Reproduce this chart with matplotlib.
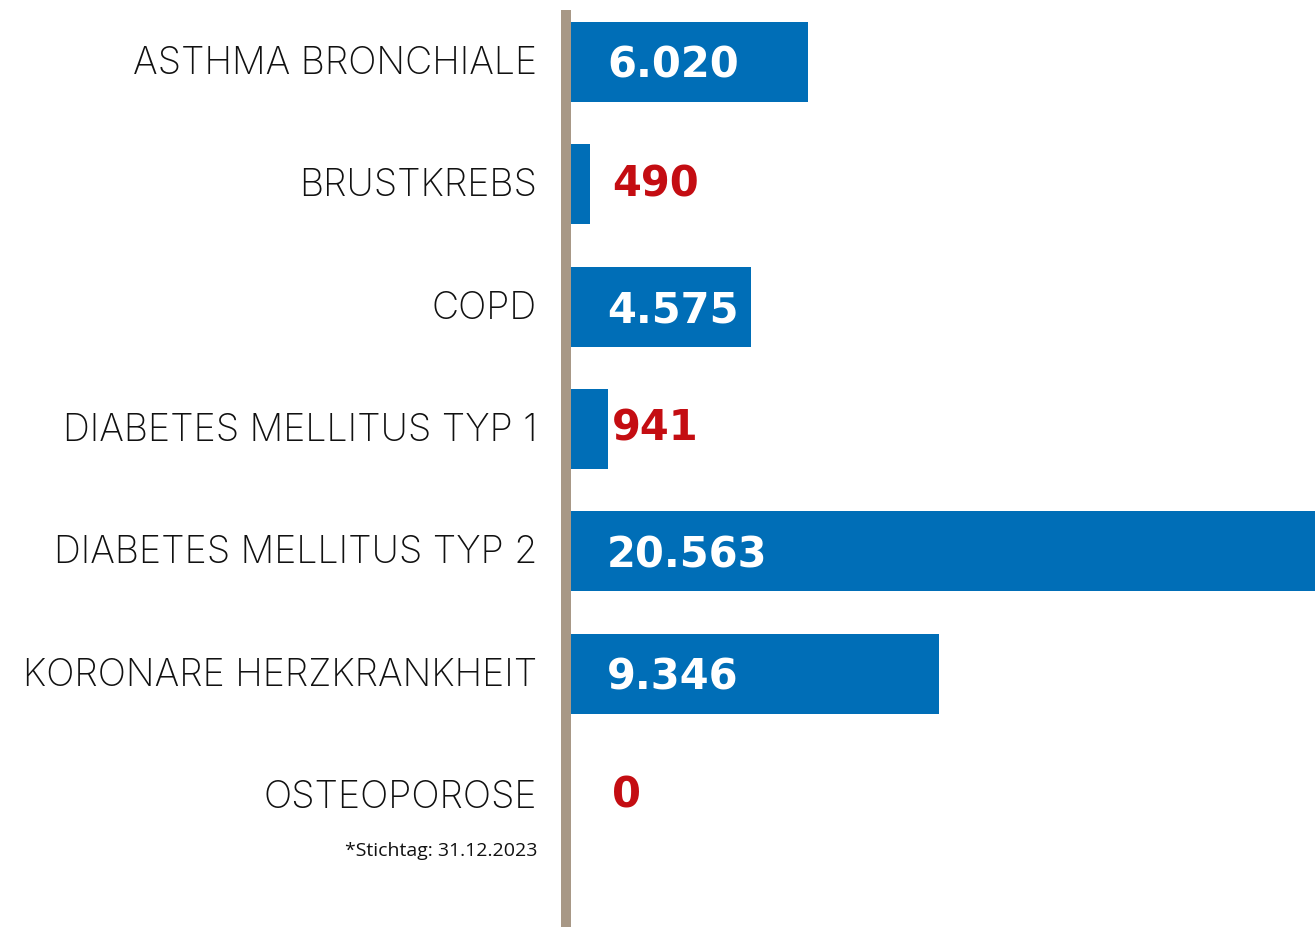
"""Horizontal bar chart: Teilnehmer je DMP-Programm."""

import matplotlib

matplotlib.use("Agg")
import matplotlib.pyplot as plt
from matplotlib.patches import Rectangle
from matplotlib.transforms import offset_copy


categories = [
    "ASTHMA BRONCHIALE",
    "BRUSTKREBS",
    "COPD",
    "DIABETES MELLITUS TYP 1",
    "DIABETES MELLITUS TYP 2",
    "KORONARE HERZKRANKHEIT",
    "OSTEOPOROSE",
]
values = [6020, 490, 4575, 941, 20563, 9346, 0]
footnote = "*Stichtag: 31.12.2023"

BLUE = "#006eb7"
RED = "#c40d12"
AXIS_COLOR = "#a89886"
W, H = 1315, 927
X_MAX = 18900  # longest bar runs off the right edge
PX = 0.72  # points per pixel at dpi 100


def fmt(v: int) -> str:
    return f"{v:,}".replace(",", ".")


fig = plt.figure(figsize=(W / 100, H / 100), dpi=100)
ax = fig.add_axes([571 / W, 0, 1 - 571 / W, 1])

row_px = 122.3
first_px = 62
ypos = list(range(len(categories)))
ax.barh(ypos, values, height=80 / row_px, color=BLUE)
ax.set_xlim(0, X_MAX)
ax.set_ylim((H - first_px) / row_px, -first_px / row_px)
ax.axis("off")

# vertical axis bar
fig.add_artist(Rectangle((561 / W, 0), 10 / W, (H - 10) / H,
                         transform=fig.transFigure, color=AXIS_COLOR, lw=0))

for y, label, v in zip(ypos, categories, values):
    lab_tr = offset_copy(ax.transData, fig=fig, x=-34 * PX, y=-2 * PX, units="points")
    ax.text(0, y, label, transform=lab_tr, ha="right", va="center",
            fontsize=27, family="Inter", fontweight="light", color="#111111",
            clip_on=False)
    inside = v >= 4000
    if inside:
        tr = offset_copy(ax.transData, fig=fig, x=36 * PX, y=-4 * PX, units="points")
    else:
        tr = offset_copy(ax.transData, fig=fig, x=41 * PX, y=0, units="points")
    ax.text(0, y, fmt(v), transform=tr, ha="left", va="center",
            fontsize=30, family="DejaVu Sans", fontweight="bold",
            color="white" if inside else RED)

fig.text(537 / W, 1 - 851 / H, footnote, ha="right", va="center",
         fontsize=14, family="Open Sans", color="#111111")

fig.savefig("out.png", dpi=100)
